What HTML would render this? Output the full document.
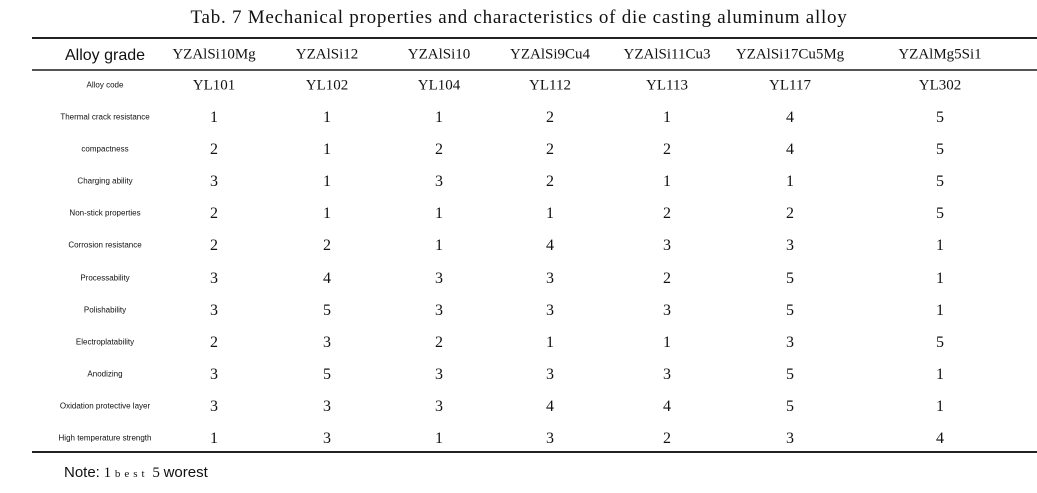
<!DOCTYPE html>
<html><head><meta charset="utf-8">
<style>
html,body{margin:0;padding:0;background:#fff;}
#root{position:relative;width:1037px;height:493px;overflow:hidden;background:#fff;color:#111;}
.t{position:absolute;white-space:nowrap;transform:translate(-50%,-50%);}
.serif{font-family:"Liberation Serif",serif;}
.sans{font-family:"Liberation Sans",sans-serif;}
.rule{position:absolute;left:32px;width:1005px;background:#222;}
</style></head>
<body>
<div id="root">
  <div class="t serif" style="left:519px;top:18px;font-size:19px;letter-spacing:0.75px;">Tab. 7 Mechanical properties and characteristics of die casting aluminum alloy</div>
  <div class="rule" style="top:37px;height:2px;"></div>
  <div class="rule" style="top:69px;height:1.5px;background:#555;"></div>
  <div class="rule" style="top:451px;height:2px;"></div>
  <div class="t sans" style="left:105px;top:56px;font-size:16px;">Alloy grade</div>
  <div class="t" style="left:64px;top:473px;transform:translate(0,-50%);font-size:15px;"><span class="sans">Note:</span><span class="serif"> 1 <span style="font-size:11px;letter-spacing:4px;">best</span> 5 </span><span class="sans">worest</span></div>
</div>
<script>
const grades = ["YZAlSi10Mg","YZAlSi12","YZAlSi10","YZAlSi9Cu4","YZAlSi11Cu3","YZAlSi17Cu5Mg","YZAlMg5Si1"];
const codes = ["YL101","YL102","YL104","YL112","YL113","YL117","YL302"];
const properties = ["Thermal crack resistance","compactness","Charging ability","Non-stick properties","Corrosion resistance","Processability","Polishability","Electroplatability","Anodizing","Oxidation protective layer","High temperature strength"];
const ratings = [
 [1,1,1,2,1,4,5],
 [2,1,2,2,2,4,5],
 [3,1,3,2,1,1,5],
 [2,1,1,1,2,2,5],
 [2,2,1,4,3,3,1],
 [3,4,3,3,2,5,1],
 [3,5,3,3,3,5,1],
 [2,3,2,1,1,3,5],
 [3,5,3,3,3,5,1],
 [3,3,3,4,4,5,1],
 [1,3,1,3,2,3,4]
];
const root = document.getElementById('root');
const colX = [214,327,439,550,667,790,940];
const labelX = 105;
function rowY(i){ return 117 + i*32.1; }
function add(txt, x, y, cls, size, name){
  const d = document.createElement('div');
  d.className = 't ' + cls;
  d.style.left = x + 'px';
  d.style.top = y + 'px';
  d.style.fontSize = size + 'px';
  d.textContent = txt;
  
  
  root.appendChild(d);
}
grades.forEach((g,j)=>{ add(g, colX[j], 55, 'serif', 15, 'grade-header'); });
add('Alloy code', labelX, 85, 'sans', 8, 'row-label');
codes.forEach((c,j)=>{ add(c, colX[j], 86, 'serif', 15, 'alloy-code-cell'); });
properties.forEach((p,i)=>{
  const y = rowY(i);
  add(p, labelX, y, 'sans', 8, 'row-label');
  ratings[i].forEach((v,j)=>{ add(String(v), colX[j], y+1, 'serif', 16, 'rating-cell'); });
});
</script>
</body></html>
